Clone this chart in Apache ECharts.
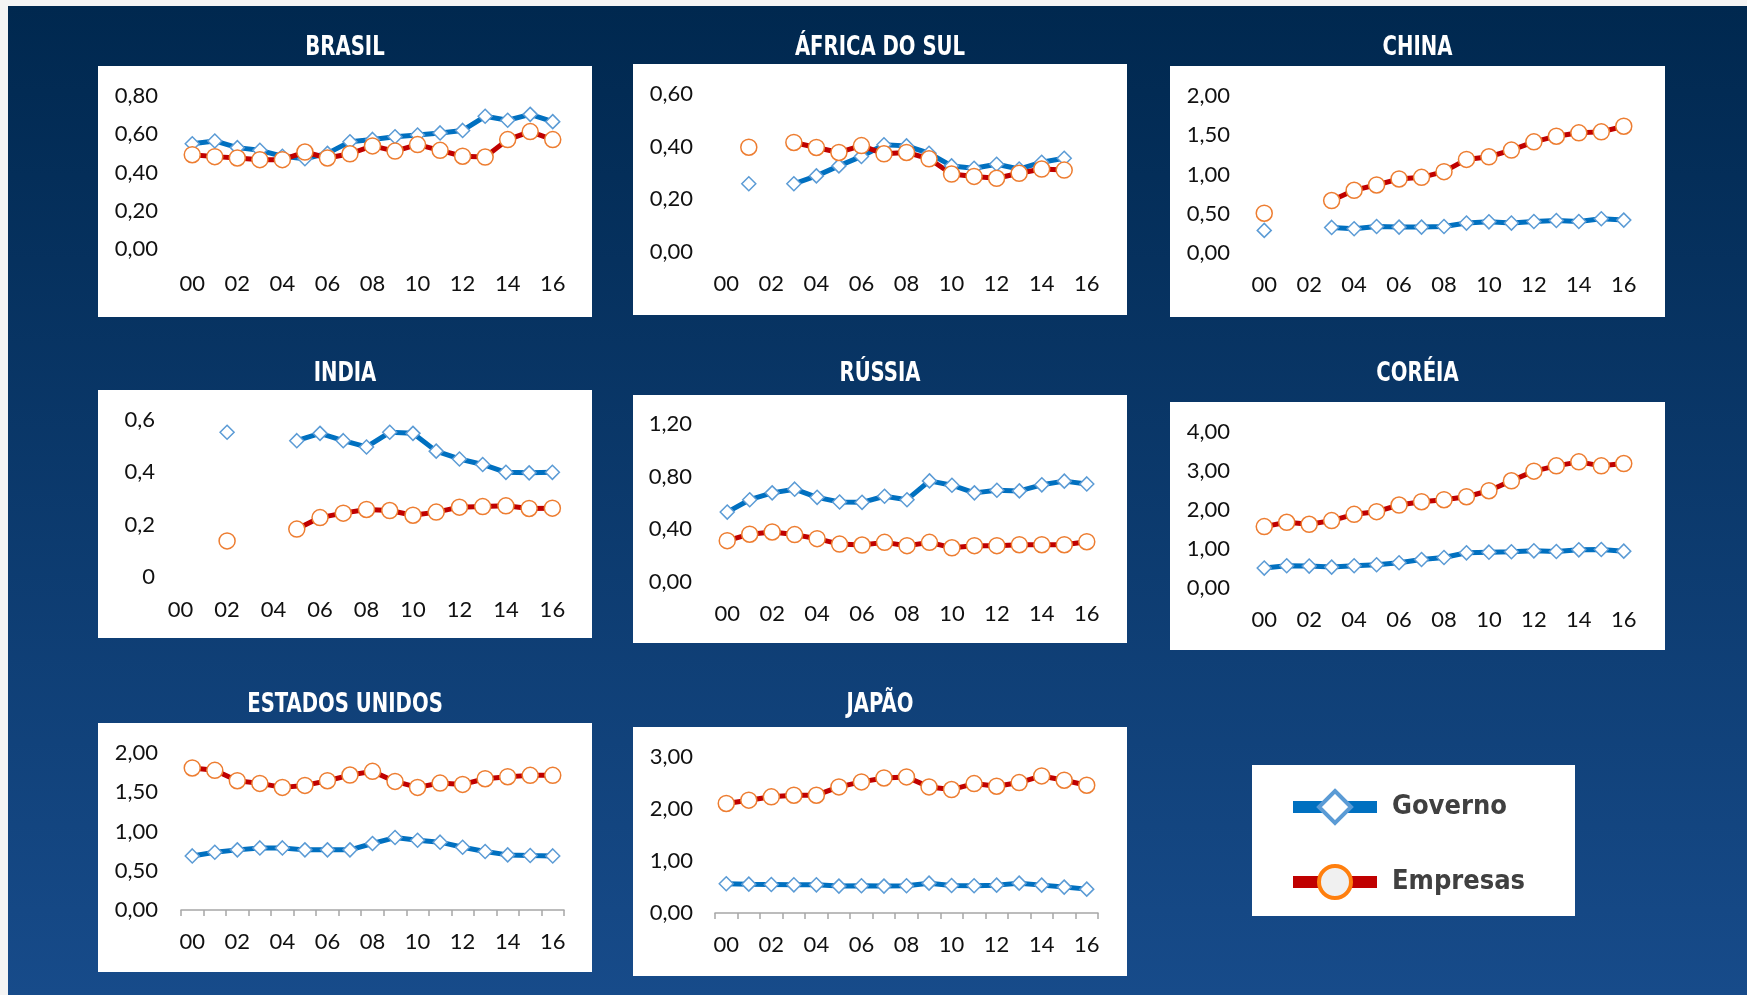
<!DOCTYPE html>
<html>
<head>
<meta charset="utf-8">
<script src="https://cdn.jsdelivr.net/npm/echarts@6/dist/echarts.min.js"></script>
<style>
html,body{margin:0;padding:0;background:#f4f4f4;}
#chart{width:1747px;height:995px;}
</style>
</head>
<body>
<div id="chart"></div>
<script>
// ---------- DATA ----------
const years = ['00','01','02','03','04','05','06','07','08','09','10','11','12','13','14','15','16'];
const seriesNames = ['Governo', 'Empresas'];

const brasilGov = [0.55,0.565,0.53,0.516,0.485,0.472,0.50,0.561,0.573,0.587,0.596,0.607,0.62,0.694,0.673,0.704,0.666];
const brasilEmp = [0.493,0.483,0.476,0.467,0.467,0.507,0.476,0.498,0.539,0.512,0.546,0.516,0.485,0.481,0.572,0.614,0.572];

const africaGov = [null,0.259,null,0.259,0.289,0.327,0.363,0.407,0.403,0.375,0.327,0.318,0.333,0.315,0.341,0.356,null];
const africaEmp = [null,0.398,null,0.416,0.397,0.378,0.404,0.373,0.378,0.354,0.296,0.287,0.280,0.299,0.315,0.311,null];

const chinaGov = [0.288,null,null,0.326,0.309,0.338,0.330,0.330,0.338,0.381,0.397,0.381,0.402,0.414,0.402,0.436,0.419];
const chinaEmp = [0.507,null,null,0.668,0.799,0.867,0.943,0.964,1.036,1.192,1.226,1.311,1.416,1.488,1.531,1.543,1.615];

const indiaGov = [null,null,0.553,null,null,0.521,0.549,0.521,0.497,0.553,0.549,0.481,0.451,0.430,0.400,0.398,0.400];
const indiaEmp = [null,null,0.138,null,null,0.183,0.227,0.244,0.258,0.254,0.236,0.248,0.267,0.269,0.272,0.262,0.263];

const russiaGov = [0.531,0.625,0.677,0.705,0.643,0.608,0.605,0.651,0.625,0.768,0.735,0.677,0.697,0.692,0.738,0.766,0.745];
const russiaEmp = [0.314,0.363,0.380,0.360,0.329,0.288,0.281,0.301,0.276,0.301,0.260,0.276,0.276,0.283,0.283,0.283,0.306];

const coreiaGov = [0.511,0.570,0.562,0.536,0.570,0.596,0.647,0.732,0.783,0.902,0.919,0.928,0.953,0.936,0.979,0.987,0.945];
const coreiaEmp = [1.574,1.685,1.634,1.728,1.889,1.957,2.128,2.213,2.264,2.340,2.494,2.749,2.996,3.132,3.234,3.132,3.191];

const euaGov = [0.689,0.736,0.766,0.791,0.791,0.766,0.766,0.766,0.847,0.923,0.889,0.864,0.800,0.745,0.702,0.694,0.689];
const euaEmp = [1.809,1.779,1.647,1.613,1.562,1.587,1.647,1.719,1.766,1.638,1.562,1.617,1.600,1.672,1.698,1.715,1.715];

const japaoGov = [0.562,0.555,0.549,0.542,0.542,0.517,0.523,0.517,0.523,0.574,0.530,0.523,0.536,0.574,0.536,0.498,0.459];
const japaoEmp = [2.106,2.170,2.234,2.265,2.265,2.425,2.521,2.597,2.617,2.425,2.374,2.489,2.438,2.508,2.636,2.553,2.457];

// y tick labels
const brasilTicks = ['0,00','0,20','0,40','0,60','0,80'];
const africaTicks = ['0,00','0,20','0,40','0,60'];
const chinaTicks  = ['0,00','0,50','1,00','1,50','2,00'];
const indiaTicks  = ['0','0,2','0,4','0,6'];
const russiaTicks = ['0,00','0,40','0,80','1,20'];
const coreiaTicks = ['0,00','1,00','2,00','3,00','4,00'];
const euaTicks    = ['0,00','0,50','1,00','1,50','2,00'];
const japaoTicks  = ['0,00','1,00','2,00','3,00'];

const brasilInterval = 0.2, africaInterval = 0.2, chinaInterval = 0.5, indiaInterval = 0.2;
const russiaInterval = 0.4, coreiaInterval = 1, euaInterval = 0.5, japaoInterval = 1;

// ---------- LAYOUT ----------
const panels = [
  {title:'BRASIL', gov:brasilGov, emp:brasilEmp, ticks:brasilTicks, interval:brasilInterval,
   box:[98,66,494,251], grid:[181,96,383,153], titleY:48, yMargin:23, xMargin:24, axis:false},
  {title:'ÁFRICA DO SUL', gov:africaGov, emp:africaEmp, ticks:africaTicks, interval:africaInterval,
   box:[633,64,494,251], grid:[715,94,383,158], titleY:48, yMargin:22, xMargin:21, axis:false},
  {title:'CHINA', gov:chinaGov, emp:chinaEmp, ticks:chinaTicks, interval:chinaInterval,
   box:[1170,66,495,251], grid:[1253,96,382,157], titleY:48, yMargin:23, xMargin:21, axis:false},
  {title:'INDIA', gov:indiaGov, emp:indiaEmp, ticks:indiaTicks, interval:indiaInterval,
   box:[98,390,494,248], grid:[169,420,395,157], titleY:374, yMargin:14, xMargin:22, axis:false},
  {title:'RÚSSIA', gov:russiaGov, emp:russiaEmp, ticks:russiaTicks, interval:russiaInterval,
   box:[633,395,494,248], grid:[716,424,382,158], titleY:374, yMargin:24, xMargin:21, axis:false},
  {title:'CORÉIA', gov:coreiaGov, emp:coreiaEmp, ticks:coreiaTicks, interval:coreiaInterval,
   box:[1170,402,495,248], grid:[1253,432,382,156], titleY:374, yMargin:23, xMargin:21, axis:false},
  {title:'ESTADOS UNIDOS', gov:euaGov, emp:euaEmp, ticks:euaTicks, interval:euaInterval,
   box:[98,723,494,249], grid:[181,753,383,157], titleY:705, yMargin:23, xMargin:21, axis:true},
  {title:'JAPÃO', gov:japaoGov, emp:japaoEmp, ticks:japaoTicks, interval:japaoInterval,
   box:[633,727,494,249], grid:[715,757,383,156], titleY:705, yMargin:22, xMargin:21, axis:true}
];

const condensed = "'DejaVu Sans Condensed','DejaVu Sans',sans-serif";
const bodyFont = "Lato, 'Open Sans', sans-serif";

const titleTexts = [], grids = [], xAxes = [], yAxes = [], series = [], panelRects = [];
panels.forEach((p, i) => {
  titleTexts.push({
    type: 'text', x: p.box[0] + p.box[2] / 2, y: p.titleY, scaleX: 0.81, originX: 0, originY: 0, silent: true,
    style: {text: p.title, fill: '#ffffff', font: "bold 27px " + condensed, align: 'center', verticalAlign: 'middle'}
  });
  panelRects.push({type: 'rect', shape: {x: p.box[0], y: p.box[1], width: p.box[2], height: p.box[3]},
    style: {fill: '#ffffff'}, silent: true});
  grids.push({left: p.grid[0], top: p.grid[1], width: p.grid[2], height: p.grid[3],
    show: true, backgroundColor: '#d0d9e7', borderWidth: 0});
  xAxes.push({
    type: 'category', gridIndex: i, data: years, boundaryGap: true,
    axisLine: {show: p.axis, lineStyle: {color: '#a6a6a6', width: 1.5}},
    axisTick: {show: p.axis, interval: 0, length: 6, lineStyle: {color: '#a6a6a6', width: 1.5}},
    axisLabel: {interval: 1, margin: p.xMargin, color: '#111', fontSize: 22, lineHeight: 22, fontFamily: bodyFont},
    splitLine: {show: false}
  });
  const ticks = p.ticks;
  yAxes.push({
    type: 'value', gridIndex: i, min: 0, max: p.interval * (ticks.length - 1), interval: p.interval,
    axisLine: {show: false}, axisTick: {show: false},
    axisLabel: {margin: p.yMargin, color: '#111', fontSize: 22, fontFamily: bodyFont,
      formatter: (v, idx) => ticks[idx]},
    splitLine: {show: true, lineStyle: {color: '#ffffff', width: 1.5}}
  });
  series.push({
    name: seriesNames[0], type: 'line', xAxisIndex: i, yAxisIndex: i, data: p.gov,
    connectNulls: false, showAllSymbol: true, symbol: 'diamond', symbolSize: 14,
    lineStyle: {color: '#0070c0', width: 5},
    itemStyle: {color: '#ffffff', borderColor: '#5b9bd5', borderWidth: 1.5},
    emphasis: {disabled: true}, animation: false
  });
  series.push({
    name: seriesNames[1], type: 'line', xAxisIndex: i, yAxisIndex: i, data: p.emp,
    connectNulls: false, showAllSymbol: true, symbol: 'circle', symbolSize: 16,
    lineStyle: {color: '#c00000', width: 5},
    itemStyle: {color: '#ffffff', borderColor: '#ed7d31', borderWidth: 1.5},
    emphasis: {disabled: true}, animation: false
  });
});

const chart = echarts.init(document.getElementById('chart'), null, {renderer: 'canvas'});
chart.setOption({
  animation: false,
  backgroundColor: '#f4f4f4',
  graphic: {
    z: -1,
    elements: [
      {type: 'rect', shape: {x: 8, y: 6, width: 1739, height: 989}, silent: true,
       style: {fill: new echarts.graphic.LinearGradient(0, 0, 0, 1, [
         {offset: 0, color: '#00284f'}, {offset: 1, color: '#174b8a'}])}},
      ...panelRects,
      {type: 'rect', shape: {x: 1252, y: 765, width: 323, height: 151}, style: {fill: '#ffffff'}, silent: true}
    ]
  },
  legend: {
    orient: 'vertical', left: 1287, top: 789, padding: 0, itemGap: 39,
    itemWidth: 84, itemHeight: 40, selectedMode: false,
    textStyle: {color: '#404040', fontSize: 27, fontWeight: 'bold', fontFamily: condensed, padding: [0, 0, 0, 10]},
    data: [
      {name: 'Governo', lineStyle: {color: '#0070c0', width: 12},
       itemStyle: {color: '#ffffff', borderColor: '#5b9bd5', borderWidth: 4}},
      {name: 'Empresas', lineStyle: {color: '#c00000', width: 12},
       itemStyle: {color: '#f0f0f0', borderColor: '#ff7f0e', borderWidth: 4}}
    ]
  },
  grid: grids,
  xAxis: xAxes,
  yAxis: yAxes,
  series: series
});
// panel titles (condensed, drawn on top of the background)
chart.setOption({graphic: {elements: titleTexts.map((t, k) => Object.assign({id: 'title' + k}, t))}});
</script>
</body>
</html>
